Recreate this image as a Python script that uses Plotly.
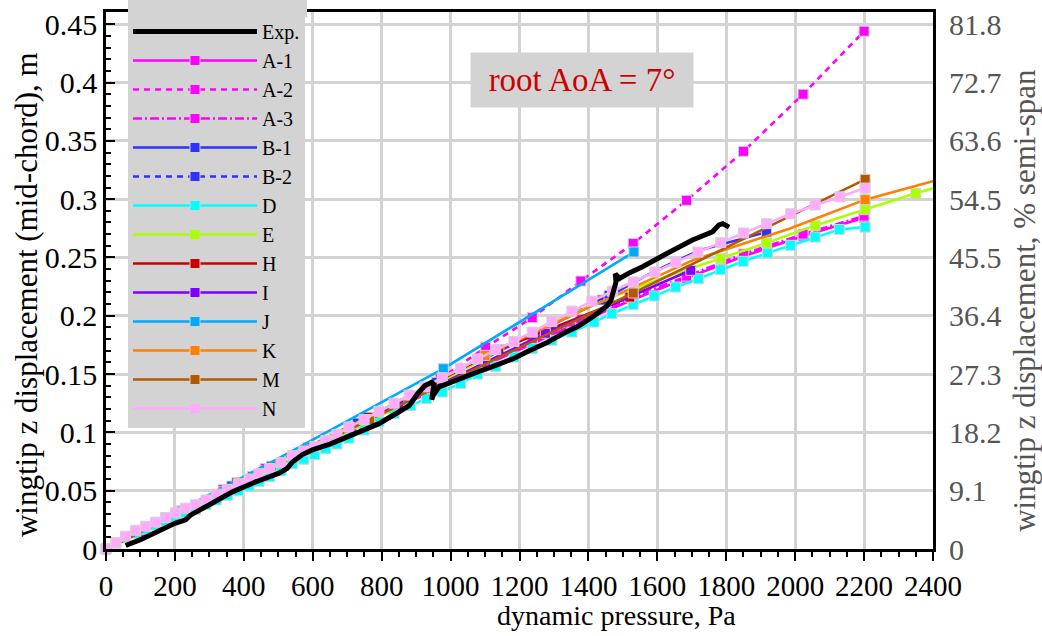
import plotly.graph_objects as go

# ---------------- data ----------------
PCT_LABELS = ["0", "9.1", "18.2", "27.3", "36.4", "45.5", "54.5", "63.6", "72.7", "81.8"]
Y_TICKS = [0, 0.05, 0.1, 0.15, 0.2, 0.25, 0.3, 0.35, 0.4, 0.45]

exp_q = [57, 100, 150, 200, 231, 245, 300, 367, 430, 502, 525, 541, 570, 599, 650, 700,
         750, 792, 841, 880, 904, 925, 945, 952, 945, 950, 967, 1000, 1034, 1080, 1131,
         1180, 1228, 1280, 1325, 1370, 1412, 1450, 1465, 1475, 1480, 1478, 1490, 1520,
         1557, 1625, 1702, 1760, 1779, 1790, 1803, 1808]
exp_z = [0.003, 0.008, 0.015, 0.022, 0.025, 0.029, 0.038, 0.049, 0.057, 0.065, 0.069,
         0.0745, 0.081, 0.085, 0.090, 0.096, 0.102, 0.1075, 0.116, 0.123, 0.133, 0.140,
         0.143, 0.141, 0.128, 0.132, 0.139, 0.143, 0.1475, 0.152, 0.1575, 0.163, 0.170,
         0.177, 0.1846, 0.191, 0.199, 0.2075, 0.213, 0.222, 0.229, 0.236, 0.232, 0.237,
         0.242, 0.253, 0.265, 0.272, 0.278, 0.279, 0.276, 0.276]

A_q = [0, 102, 220, 340, 462, 586, 712, 840, 970, 1102, 1237, 1378, 1530, 1685, 1850, 2023, 2200]
A1_z = [0, 0.014, 0.031, 0.048, 0.066, 0.084, 0.102, 0.121, 0.138, 0.158, 0.176, 0.195,
        0.214, 0.2323, 0.251, 0.2684, 0.284]
A2_z = [0, 0.016, 0.033, 0.051, 0.069, 0.087, 0.105, 0.124, 0.146, 0.173, 0.1984, 0.2298,
        0.262, 0.299, 0.341, 0.390, 0.444]
A3_z = [0, 0.0145, 0.032, 0.049, 0.067, 0.085, 0.103, 0.122, 0.140, 0.160, 0.178, 0.197,
        0.216, 0.234, 0.253, 0.270, 0.2855]

B1_q = [0, 480, 960, 1440, 1586, 1721, 1917]
B1_z = [0, 0.071, 0.143, 0.2135, 0.2375, 0.256, 0.2718]
B1_mk = [0, 1, 2, 3, 6]
B2_q = [0, 365, 730, 1095, 1460]
B2_z = [0, 0.054, 0.108, 0.163, 0.2175]

D_q = [0, 29, 57, 86, 115, 144, 173, 202, 231, 260, 290, 320, 352, 385, 415, 444, 475, 508,
       541, 574, 606, 638, 670, 705, 749, 792, 836, 884, 930, 976, 1029, 1078, 1131, 1184,
       1237, 1294, 1352, 1416, 1468, 1530, 1591, 1653, 1719, 1784, 1849, 1920, 1987, 2058,
       2128, 2203]
D_z = [0, 0.005, 0.0095, 0.0135, 0.017, 0.0205, 0.024, 0.028, 0.031, 0.034, 0.038, 0.042,
       0.046, 0.050, 0.054, 0.058, 0.062, 0.067, 0.073, 0.077, 0.081, 0.086, 0.090, 0.095,
       0.102, 0.109, 0.116, 0.123, 0.129, 0.1346, 0.142, 0.150, 0.1566, 0.1646, 0.172,
       0.179, 0.186, 0.1946, 0.2018, 0.2095, 0.217, 0.2246, 0.2318, 0.2395, 0.2467, 0.2538,
       0.2604, 0.2675, 0.274, 0.276]

E_q = [0, 400, 800, 1150, 1296, 1520, 1650, 1784, 1917, 2058, 2203, 2350, 2500]
E_z = [0, 0.058, 0.115, 0.172, 0.195, 0.222, 0.236, 0.249, 0.2624, 0.2775, 0.291, 0.305, 0.318]
E_mk = [0, 7, 8, 9, 10, 11]

H_q = [0, 380, 760, 1140, 1520]
H_z = [0, 0.057, 0.113, 0.171, 0.216]

I_q = [0, 425, 850, 1275, 1697]
I_z = [0, 0.062, 0.124, 0.185, 0.239]

J_q = [0, 490, 979, 1532]
J_z = [0, 0.076, 0.1546, 0.2547]
J_mk = [0, 2, 3]

K_q = [0, 400, 800, 1100, 1400, 1702, 1983, 2203, 2394, 2600]
K_z = [0, 0.060, 0.119, 0.166, 0.207, 0.2475, 0.2747, 0.2996, 0.315, 0.330]
K_mk = [0, 3, 7]

M_q = [0, 765, 1530, 2203]
M_z = [0, 0.111, 0.2195, 0.317]

N_q = [0, 29, 57, 86, 115, 144, 173, 202, 231, 260, 290, 320, 352, 385, 415, 444, 475, 508,
       541, 574, 606, 638, 670, 705, 749, 792, 836, 880, 926, 976, 1029, 1078, 1131, 1184,
       1237, 1294, 1352, 1410, 1470, 1530, 1593, 1654, 1718, 1784, 1850, 1917, 1987, 2058,
       2130, 2203]
N_z = [0.000, 0.0055, 0.011, 0.016, 0.0195, 0.023, 0.027, 0.031, 0.035, 0.038, 0.042, 0.047,
       0.051, 0.056, 0.060, 0.0646, 0.069, 0.074, 0.080, 0.084, 0.088, 0.093, 0.098, 0.1046,
       0.111, 0.118, 0.125, 0.132, 0.139, 0.147, 0.155, 0.163, 0.171, 0.178, 0.186, 0.195,
       0.204, 0.2125, 0.221, 0.229, 0.2375, 0.246, 0.2546, 0.2627, 0.271, 0.279, 0.2875,
       0.295, 0.302, 0.3095]

# name, x, y, marker indices (None = every point), color, dash
SERIES = [
    ("A-1", A_q, A1_z, None, "#ff00ff", "solid"),
    ("A-2", A_q, A2_z, None, "#ff00ff", "6px,5px"),
    ("A-3", A_q, A3_z, None, "#ff00ff", "9px,3px,2px,3px"),
    ("B-1", B1_q, B1_z, B1_mk, "#3030ff", "solid"),
    ("B-2", B2_q, B2_z, None, "#3030ff", "6px,5px"),
    ("D", D_q, D_z, None, "#00ffff", "solid"),
    ("E", E_q, E_z, E_mk, "#aaff00", "solid"),
    ("H", H_q, H_z, None, "#cc0000", "solid"),
    ("I", I_q, I_z, None, "#7f00ff", "solid"),
    ("J", J_q, J_z, J_mk, "#00aaff", "solid"),
    ("K", K_q, K_z, K_mk, "#ff8000", "solid"),
    ("M", M_q, M_z, None, "#b35900", "solid"),
    ("N", N_q, N_z, None, "#ffaaff", "solid"),
]

MK_SIZE = 10
MK_LINE = dict(color="#d3d3d3", width=1)
LW = 2.6

fig = go.Figure()

# legend entries (in order)
fig.add_trace(go.Scatter(x=[None], y=[None], mode="lines", name="Exp.",
                         line=dict(color="black", width=5), legendgroup="Exp."))
for name, q, z, mk, col, dash in SERIES:
    fig.add_trace(go.Scatter(x=[None], y=[None], mode="lines+markers", name=name,
                             line=dict(color=col, width=LW, dash=dash),
                             marker=dict(symbol="square", size=MK_SIZE, color=col, line=MK_LINE),
                             legendgroup=name))

# curves and markers
for name, q, z, mk, col, dash in SERIES:
    fig.add_trace(go.Scatter(x=q, y=z, mode="lines", showlegend=False, legendgroup=name,
                             line=dict(color=col, width=LW, dash=dash), hoverinfo="skip"))
    idx = range(len(q)) if mk is None else mk
    fig.add_trace(go.Scatter(x=[q[i] for i in idx], y=[z[i] for i in idx], mode="markers",
                             showlegend=False, legendgroup=name, cliponaxis=False,
                             marker=dict(symbol="square", size=MK_SIZE, color=col, line=MK_LINE),
                             hoverinfo="skip"))

fig.add_trace(go.Scatter(x=exp_q, y=exp_z, mode="lines", showlegend=False, legendgroup="Exp.",
                         line=dict(color="black", width=5)))

# transparent copy on the right-hand (% semi-span) axis so that axis is drawn
fig.add_trace(go.Scatter(x=exp_q, y=exp_z, mode="lines", yaxis="y2", showlegend=False,
                         line=dict(color="rgba(0,0,0,0)", width=0), hoverinfo="skip"))

FONT = "Liberation Serif, Times New Roman, serif"
Y_RANGE = [0, 0.4605]
GRAY_TXT = "#555555"
LEGEND_BG = "#d3d3d3"
LEG_X0, LEG_X1 = 0.0266, 0.2431

fig.update_layout(
    width=1042, height=636,
    margin=dict(l=106, r=109, t=12, b=87, autoexpand=False),
    paper_bgcolor="white", plot_bgcolor="white",
    font=dict(family=FONT, size=30, color="black"),
    showlegend=True,
    legend=dict(x=LEG_X0, y=1.0, xanchor="left", yanchor="top", bgcolor=LEGEND_BG,
                font=dict(size=20, color="black", family=FONT), itemwidth=124,
                traceorder="normal", borderwidth=0),
    shapes=[dict(type="rect", xref="paper", yref="paper", x0=LEG_X0, x1=LEG_X1,
                 y0=0.99, y1=1.03, fillcolor=LEGEND_BG, line=dict(width=0), layer="above")],
    xaxis=dict(range=[0, 2400], tick0=0, dtick=200, ticks="outside", ticklen=9, tickwidth=2,
               tickcolor="black", showline=True, linecolor="black", linewidth=2.5, mirror=True,
               showgrid=True, gridcolor="#d3d3d3", gridwidth=2.5, zeroline=False,
               minor=dict(dtick=50, ticks="outside", ticklen=5, tickwidth=1.5,
                          tickcolor="black", showgrid=False),
               tickfont=dict(size=29, family=FONT)),
    yaxis=dict(range=Y_RANGE, tick0=0, dtick=0.05, ticks="inside", ticklen=9, tickwidth=2,
               tickcolor="black", showline=True, linecolor="black", linewidth=2.5, mirror=True,
               showgrid=True, gridcolor="#d3d3d3", gridwidth=2.5, zeroline=False,
               minor=dict(dtick=0.01, ticks="inside", ticklen=5, tickwidth=1.5,
                          tickcolor="black", showgrid=False),
               tickfont=dict(size=30, family=FONT)),
    yaxis2=dict(overlaying="y", side="right", range=Y_RANGE, tickmode="array",
                tickvals=Y_TICKS, ticktext=PCT_LABELS, showgrid=False, zeroline=False,
                showline=False, ticks="outside", ticklen=9, tickcolor="rgba(0,0,0,0)",
                tickfont=dict(size=30, color=GRAY_TXT, family=FONT)),
    annotations=[
        dict(x=1382, y=0.402, xref="x", yref="y", text="root AoA = 7°",
             showarrow=False, font=dict(size=33, color="#cc0000", family=FONT),
             bgcolor="#d3d3d3", width=212, height=44, borderpad=5),
        dict(x=0.617, y=-0.123, xref="paper", yref="paper", text="dynamic pressure, Pa",
             showarrow=False, font=dict(size=28, color="black", family=FONT),
             xanchor="center", yanchor="middle"),
        dict(x=-0.0955, y=0.473, xref="paper", yref="paper",
             text="wingtip z displacement (mid-chord), m", textangle=-90,
             showarrow=False, font=dict(size=31, color="black", family=FONT),
             xanchor="center", yanchor="middle"),
        dict(x=1.111, y=0.4637, xref="paper", yref="paper",
             text="wingtip z displacement, % semi-span", textangle=-90,
             showarrow=False, font=dict(size=31, color=GRAY_TXT, family=FONT),
             xanchor="center", yanchor="middle"),
    ],
)

fig.write_html("out.html")
